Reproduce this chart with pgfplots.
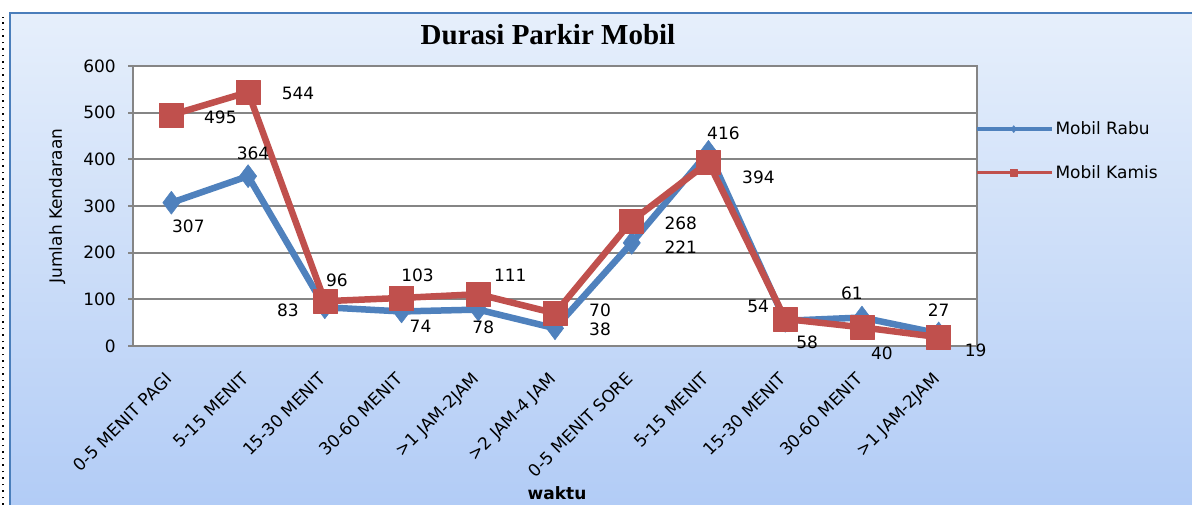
\documentclass[border=0pt]{standalone}
\usepackage{pgfplots}
\pgfplotsset{compat=1.18}
\usepackage{pgfplotstable}
\usepackage{fontspec}
\setmainfont{DejaVu Sans}
\newfontfamily\titlefont{Liberation Serif}
\definecolor{rabu}{HTML}{4F81BD}
\definecolor{kamis}{HTML}{C0504D}
\definecolor{gridgray}{HTML}{858585}
\definecolor{bgtop}{RGB}{230,239,251}
\definecolor{bgbot}{RGB}{178,204,246}
\definecolor{frameblue}{HTML}{4A7EBB}

\pgfplotstableread{
x y dx dy
0 307 17 -24
1 364 5 23
2 83 -37 -3
3 74 19 -15
4 78 5 -18
5 38 45 -1
6 221 49 -4
7 416 15 19
8 54 -27 14
9 61 -10 24
10 27 0 23
}\rabu
\pgfplotstableread{
x y dx dy
0 495 49 -2
1 544 50 -1
2 96 12 21
3 103 16 23
4 111 32 19
5 70 45 3
6 268 49 -2
7 394 50 -15
8 58 22 -23
9 40 20 -26
10 19 37 -13
}\kamis

\newcommand{\lbl}{\fontsize{17}{20}\selectfont}

\begin{document}
\begin{tikzpicture}[x=1pt,y=1pt]
\path[use as bounding box] (0,0) rectangle (1192,505);
\fill[white] (0,0) rectangle (1192,505);
\shade[top color=bgtop, bottom color=bgbot] (10,0) rectangle (1192,492);
\draw[frameblue, line width=1.5pt] (10,0) -- (10,492) -- (1192,492);
\draw[black, line width=1.5pt, dash pattern=on 1.5pt off 5pt] (3,0) -- (3,488);
\begin{axis}[
  at={(133pt,159pt)}, anchor=south west,
  scale only axis, width=844pt, height=280pt,
  xmin=-0.5, xmax=10.5, ymin=0, ymax=600,
  axis background/.style={fill=white},
  axis line style={gridgray, line width=2pt},
  ymajorgrids, grid style={gridgray, line width=2pt},
  ytick={0,100,...,600},
  xtick={0,...,10},
  xticklabels={0-5 MENIT PAGI, 5-15 MENIT, 15-30 MENIT, 30-60 MENIT, >1 JAM-2JAM, >2 JAM-4 JAM, 0-5 MENIT SORE, 5-15 MENIT, 15-30 MENIT, 30-60 MENIT, >1 JAM-2JAM},
  xtick style={draw=none},
  ytick style={gridgray, line width=2pt},
  tick align=outside, major tick length=5pt,
  ytick pos=left, xtick pos=bottom,
  /pgf/number format/assume math mode=true,
  yticklabel style={font=\lbl, inner sep=0pt, xshift=-12pt},
  xticklabel style={font=\lbl, inner sep=0pt, xshift=-7pt, yshift=-20pt, rotate=45, anchor=north east},
  clip=false,
  legend style={at={(1,0.697)}, anchor=west, draw=none, fill=none, inner sep=0pt, outer sep=0pt, xshift=-2pt, row sep=25pt, font=\lbl, nodes={inner sep=2pt}, cells={anchor=west}},
  legend image code/.code={\draw[#1, line width=3.5pt, mark size=3.5pt, mark repeat=2, mark phase=2] plot coordinates {(0pt,0pt) (37pt,0pt) (75pt,0pt)};},
]
\addplot[rabu, line width=6.5pt, line join=round, mark=diamond*, mark size=11.5pt, mark options={line width=0.5pt, solid},
  nodes near coords,
  visualization depends on={\thisrow{dx} \as \dx},
  visualization depends on={\thisrow{dy} \as \dy},
  every node near coord/.append style={text=black, anchor=center, xshift=\dx pt, yshift=\dy pt, font=\lbl, inner sep=0pt}]
  table[x=x,y=y] {\rabu};
\addlegendentry{Mobil Rabu}
\addplot[kamis, line width=6.5pt, line join=round, mark=square*, mark size=12pt, mark options={line width=0.5pt, solid},
  nodes near coords,
  visualization depends on={\thisrow{dx} \as \dx},
  visualization depends on={\thisrow{dy} \as \dy},
  every node near coord/.append style={text=black, anchor=center, xshift=\dx pt, yshift=\dy pt, font=\lbl, inner sep=0pt}]
  table[x=x,y=y] {\kamis};
\addlegendentry{Mobil Kamis}
\end{axis}
\node[font=\titlefont\bfseries\fontsize{29}{34}\selectfont] at (548,470) {Durasi Parkir Mobil};
\node[rotate=90, font=\lbl] at (57,299) {Jumlah Kendaraan};
\node[font=\bfseries\lbl] at (557,12) {waktu};
\end{tikzpicture}
\end{document}
